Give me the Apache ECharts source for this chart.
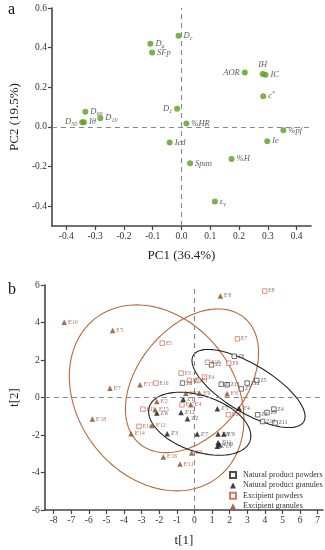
<!DOCTYPE html>
<html><head><meta charset="utf-8">
<script src="https://cdn.jsdelivr.net/npm/echarts@6/dist/echarts.min.js"></script>
<style>html,body{margin:0;padding:0;background:#fff}#c{width:325px;height:550px}</style>
</head><body><div id="c"></div>
<script>
// ---------- Panel a: PCA loadings ----------
const pcaNames = ['D_c','D_a','SFp','AOR','IH','IC','c^*','D_1','D_90','D_10','D_50','Iθ','%HR','%pf','Icd','Ie','%H','Span','ε_v'];
const pc1 = [-0.010,-0.108,-0.102,0.220,0.282,0.292,0.284,-0.015,-0.334,-0.282,-0.345,-0.339,0.017,0.354,-0.041,0.298,0.174,0.030,0.116];
const pc2 = [0.460,0.419,0.375,0.275,0.267,0.263,0.155,0.091,0.076,0.044,0.024,0.024,0.017,-0.017,-0.079,-0.072,-0.162,-0.184,-0.376];
const pcXTicks = [-0.4,-0.3,-0.2,-0.1,0,0.1,0.2,0.3,0.4];
const pcYTicks = [-0.4,-0.2,0,0.2,0.4,0.6];

// ---------- Panel b: scores ----------
const npPowNames = ['Z1','Z2','Z3','Z4','Z5','Z6','Z7','Z8','Z9','Z10','Z11','Z12','Z13'];
const npPowX = [1.52,0.97,3.59,4.51,3.54,-0.68,2.66,2.26,4.12,3.87,4.58,2.99,1.85];
const npPowY = [0.71,1.74,-0.92,-0.62,0.91,0.77,0.46,2.20,-0.80,-1.28,-1.36,0.77,0.68];

const npGraNames = ["Z'1","Z'2","Z'3","Z'4","Z'5","Z'6","Z'7","Z'8","Z'9","Z'10","Z'11","Z'12","Z'13"];
const npGraX = [-0.64,-0.40,-1.55,2.53,1.30,-2.14,0.15,1.34,1.67,1.43,1.34,-0.76,1.30];
const npGraY = [-0.09,-1.13,-1.93,-0.57,-0.60,-0.83,-1.95,-1.95,-1.95,-2.52,-2.40,-0.80,-2.60];

const exPowNames = ['E1','E3','E4','E5','E6','E7','E8','E9','E10','E11','E14','E15','E17','E18'];
const exPowX = [0.20,-0.76,0.57,-1.83,-0.29,2.44,3.99,1.95,-2.19,-2.93,-3.15,1.93,-0.71,0.74];
const exPowY = [0.91,1.30,1.09,2.90,0.91,3.13,5.68,1.83,0.77,-0.62,-1.54,-0.92,-0.39,1.88];

const exGraNames = ["E'2","E'3","E'4","E'5","E'6","E'7","E'8","E'9","E'10","E'11","E'12","E'13","E'14","E'15","E'16","E'17","E'18"];
const exGraX = [-2.14,-0.16,-0.21,-4.65,1.85,-4.80,1.47,0.28,-7.40,-0.82,-2.40,-0.49,-3.60,-2.23,-1.77,-3.09,-5.80];
const exGraY = [-0.21,-2.96,-0.39,3.57,0.20,0.50,5.42,0.23,4.01,-3.55,-1.49,0.23,-1.93,-0.65,-3.17,0.68,-1.15];

const scXTicks = [-8,-7,-6,-5,-4,-3,-2,-1,0,1,2,3,4,5,6,7];
const scYTicks = [-6,-4,-2,0,2,4,6];

// confidence ellipses (centre, semi-axes, rotation in degrees)
const ellipseFits = [
  {cx:-2.15, cy:-0.02, a:5.5, b:4.35, angle:-45, group:'exc'},
  {cx:-0.14, cy:0.89, a:4.49, b:2.97, angle:46, group:'exc'},
  {cx:3.07, cy:0.48, a:3.6, b:1.3, angle:-29, group:'nat'},
  {cx:0.3, cy:-1.4, a:3.0, b:1.5, angle:-17, group:'nat'}
];

const SERIF = '"Liberation Serif","DejaVu Serif",serif';
const leftLabels = {'D_50':1,'AOR':1,'D_1':1};
const topLabels = {'IH':1};

function richName(n){
  if(n.indexOf('_')>0){const p=n.split('_');return '{it|'+p[0]+'}{sub|'+p[1]+'}';}
  if(n.indexOf('^')>0){const p=n.split('^');return '{it|'+p[0]+'}{sup|'+p[1]+'}';}
  return '{it|'+n+'}';
}

const pcaData = pcaNames.map((n,i)=>({
  value:[pc1[i],pc2[i]], name:n,
  label:{position: leftLabels[n]?'left':(topLabels[n]?'top':'right')}
}));

function pts(xs,ys,names){return xs.map((x,i)=>({value:[x,ys[i]],name:names[i]}));}

function ellipseSeries(e){
  const col = e.group==='exc' ? '#b8693a' : '#222';
  return {
    type:'custom', xAxisIndex:1, yAxisIndex:1, silent:true, clip:false, z:1,
    data:[[e.cx,e.cy]],
    renderItem:function(params, api){
      const p=[]; const r=e.angle*Math.PI/180;
      for(let i=0;i<=160;i++){
        const t=i/160*2*Math.PI;
        const x=e.cx+e.a*Math.cos(t)*Math.cos(r)-e.b*Math.sin(t)*Math.sin(r);
        const y=e.cy+e.a*Math.cos(t)*Math.sin(r)+e.b*Math.sin(t)*Math.cos(r);
        p.push(api.coord([x,y]));
      }
      return {type:'polyline', shape:{points:p}, style:{fill:null, stroke:col, lineWidth:1.1}};
    }
  };
}

const axisCommon = {
  type:'value', splitLine:{show:false},
  axisLine:{show:true, onZero:false, lineStyle:{color:'#444', width:1.6}},
  axisTick:{show:true, inside:false, length:4, lineStyle:{color:'#444', width:1.2}},
  axisLabel:{color:'#333', fontFamily:SERIF, fontSize:9.5, margin:5},
  nameTextStyle:{color:'#222', fontFamily:SERIF, fontSize:13}
};
function mkAxis(extra, ticks, fmt){
  const a = JSON.parse(JSON.stringify(axisCommon));
  Object.assign(a, extra);
  a.axisTick.customValues = ticks;
  a.axisLabel.customValues = ticks;
  a.axisLabel.formatter = fmt;
  return a;
}
const f1 = v => v.toFixed(1);
const f0 = v => String(Math.round(v));

const zeroLines = {
  silent:true, symbol:'none', label:{show:false},
  lineStyle:{color:'#888', type:[5,4], width:1.1},
  data:[{xAxis:0},{yAxis:0}]
};

function smallLabel(col){return {show:true, position:'right', distance:1, fontSize:5.5, color:col, fontFamily:SERIF, formatter:'{b}'};}

const option = {
  animation:false,
  backgroundColor:'#fff',
  grid:[
    {left:40, top:8, width:271, height:218},
    {left:36, top:285, width:287, height:225}
  ],
  xAxis:[
    mkAxis({gridIndex:0, min:-0.45, max:0.45, name:'PC1 (36.4%)', nameLocation:'middle', nameGap:23}, pcXTicks, f1),
    mkAxis({gridIndex:1, min:-8.5, max:7.3, name:'t[1]', nameLocation:'middle', nameGap:24}, scXTicks, f0)
  ],
  yAxis:[
    mkAxis({gridIndex:0, min:-0.5, max:0.6, name:'PC2 (19.5%)', nameLocation:'middle', nameGap:26}, pcYTicks, f1),
    mkAxis({gridIndex:1, min:-6, max:6, name:'t[2]', nameLocation:'middle', nameGap:22}, scYTicks, f0)
  ],
  legend:{
    left:224, top:466, orient:'vertical', itemWidth:6, itemHeight:6, itemGap:2.4,
    textStyle:{fontFamily:SERIF, fontSize:8, color:'#333', padding:[0,0,0,2]},
    data:[
      {name:'Natural product powders', icon:'rect'},
      {name:'Natural product granules', icon:'triangle'},
      {name:'Excipient powders', icon:'rect'},
      {name:'Excipient granules', icon:'triangle'}
    ]
  },
  graphic:[
    {type:'text', left:8, top:2, style:{text:'a', font:'16px '+SERIF, fill:'#111'}},
    {type:'text', left:8, top:282, style:{text:'b', font:'16px '+SERIF, fill:'#111'}}
  ],
  series:[
    {
      type:'scatter', xAxisIndex:0, yAxisIndex:0, symbolSize:6, z:3,
      itemStyle:{color:'#5e9e1e'},
      data:pcaData,
      label:{show:true, distance:2, formatter:p=>richName(p.name),
        rich:{
          it:{fontStyle:'italic', fontFamily:SERIF, fontSize:8.5, color:'#333'},
          sub:{fontStyle:'italic', fontFamily:SERIF, fontSize:6, color:'#333', padding:[5,0,0,0]},
          sup:{fontStyle:'italic', fontFamily:SERIF, fontSize:6, color:'#333', padding:[0,0,5,0]}
        }},
      markLine:zeroLines
    },
    ...ellipseFits.map(ellipseSeries),
    {
      name:'Natural product powders', type:'scatter', xAxisIndex:1, yAxisIndex:1, z:3,
      symbol:'rect', symbolSize:4.5, itemStyle:{color:'#fff', borderColor:'#222', borderWidth:0.8},
      data:pts(npPowX,npPowY,npPowNames), label:smallLabel('#333'),
      markLine:zeroLines
    },
    {
      name:'Natural product granules', type:'scatter', xAxisIndex:1, yAxisIndex:1, z:3,
      symbol:'triangle', symbolSize:5.5, itemStyle:{color:'#111'},
      data:pts(npGraX,npGraY,npGraNames), label:smallLabel('#333')
    },
    {
      name:'Excipient powders', type:'scatter', xAxisIndex:1, yAxisIndex:1, z:3,
      symbol:'rect', symbolSize:4.5, itemStyle:{color:'#fff', borderColor:'#c9553f', borderWidth:0.8},
      data:pts(exPowX,exPowY,exPowNames), label:smallLabel('#8a4a35')
    },
    {
      name:'Excipient granules', type:'scatter', xAxisIndex:1, yAxisIndex:1, z:3,
      symbol:'triangle', symbolSize:5.5, itemStyle:{color:'#8c4a1c'},
      data:pts(exGraX,exGraY,exGraNames), label:smallLabel('#8a4a35')
    }
  ]
};
const chart = echarts.init(document.getElementById('c'), null, {renderer:'canvas'});
chart.setOption(option);
</script>
</body></html>
